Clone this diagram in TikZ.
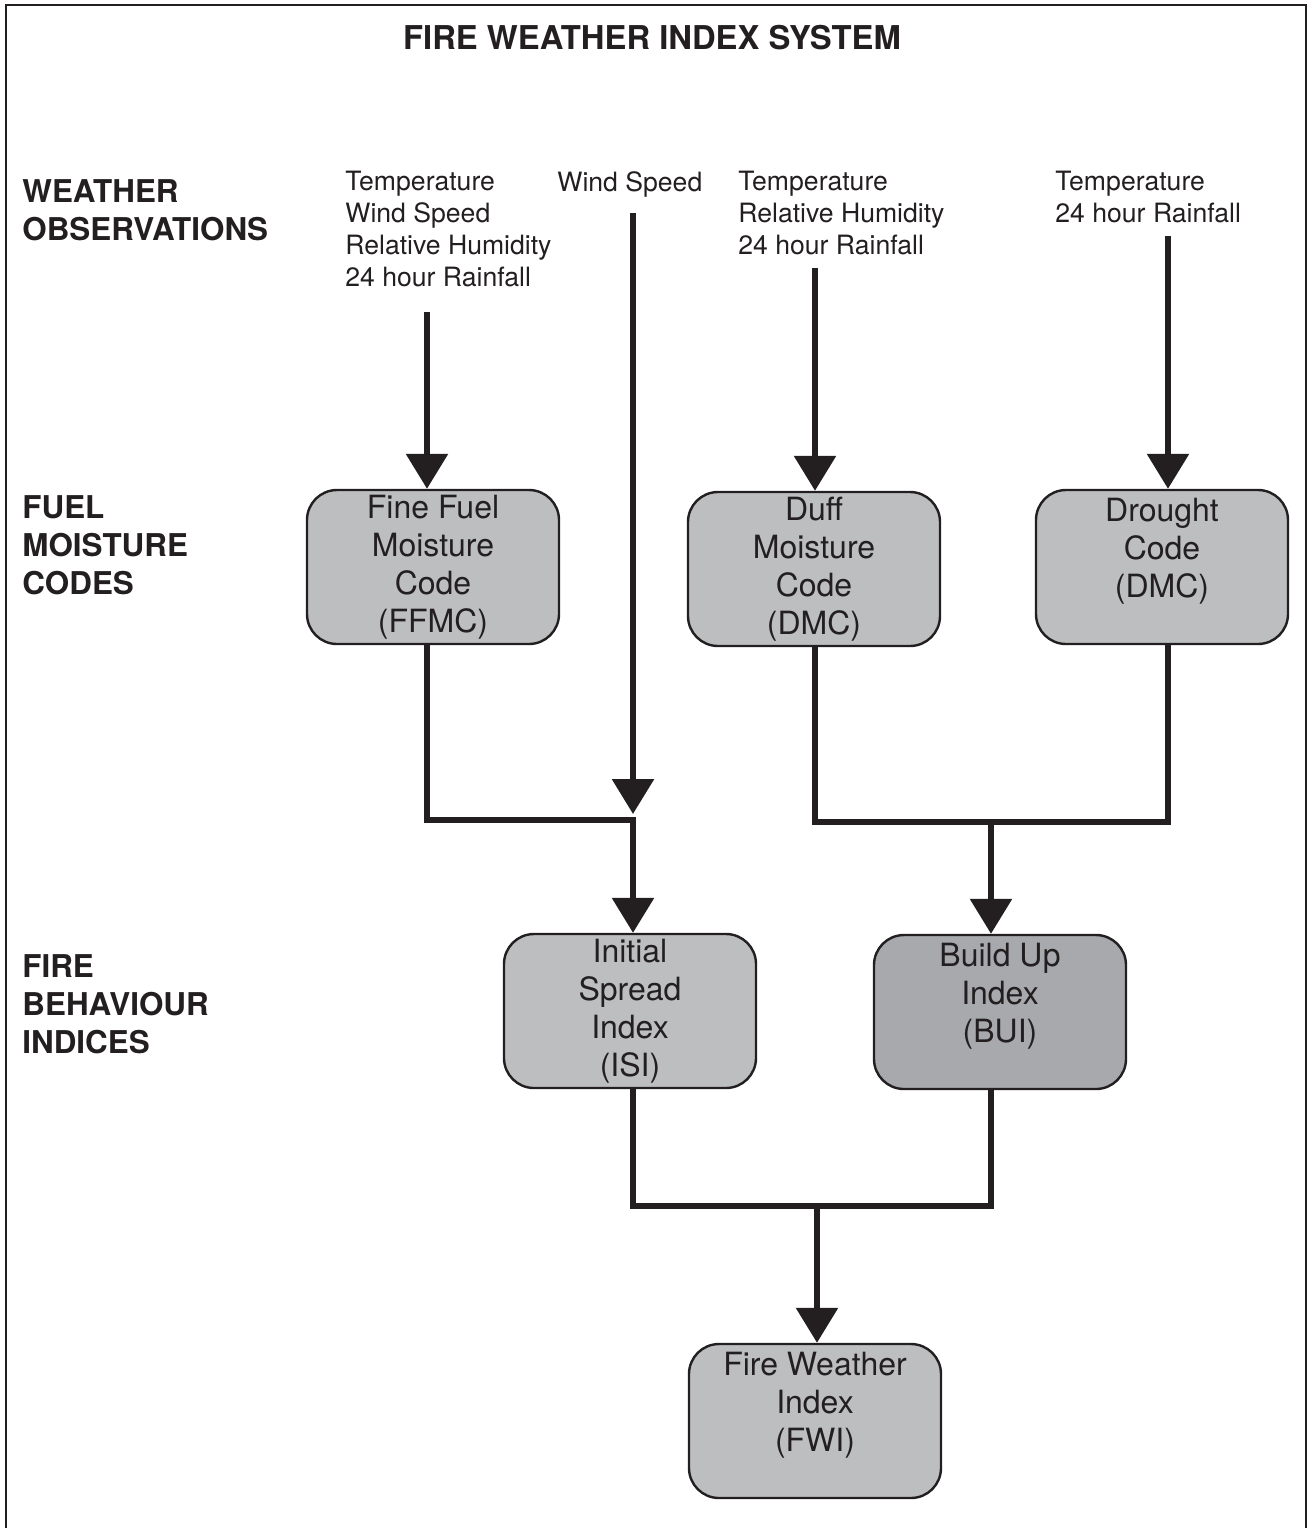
\documentclass[tikz,border=0pt]{standalone}
\usepackage{fontspec}
\setmainfont{TeX Gyre Heros}
\usetikzlibrary{arrows.meta}
\definecolor{ink}{HTML}{231F20}
\definecolor{boxgrey}{HTML}{BCBEC0}
\definecolor{boxdark}{HTML}{A7A9AC}
\tikzset{
  TitleStyle/.style = {anchor=north, inner sep=0pt, text=ink,
                       font=\fontsize{16.4}{19}\selectfont\bfseries},
  HeadStyle/.style  = {anchor=north west, align=left, inner sep=0pt, text=ink,
                       font=\fontsize{15.7}{19}\selectfont\bfseries},
  ObsStyle/.style   = {anchor=north west, align=left, inner sep=0pt, text=ink,
                       font=\fontsize{13.3}{16}\selectfont},
  BoxStyle/.style   = {draw=ink, line width=1.2pt, fill=boxgrey,
                       rounded corners=15pt, minimum width=126pt,
                       minimum height=77pt, inner sep=2pt, align=center,
                       text=ink, font=\fontsize{16}{19}\selectfont},
  LineStyle/.style  = {ink, line width=3pt},
  EdgeStyle/.style  = {LineStyle, -{Triangle[width=20.5pt,length=17.5pt]}} }

\begin{document}
\begin{tikzpicture}[x=0.5pt,y=-0.5pt]
  \useasboundingbox (0,0) rectangle (1308,1528);
  \draw[ink, line width=1.25pt] (6,1540) |- (1306,5) -- (1306,1540);

  % headings
  \node[TitleStyle] (title) at (652,25) {FIRE WEATHER INDEX SYSTEM};
  \node[HeadStyle] (hobs)  at (22,179) {WEATHER\\OBSERVATIONS};
  \node[HeadStyle] (hfuel) at (22,495) {FUEL\\MOISTURE\\CODES};
  \node[HeadStyle] (hfire) at (22,954) {FIRE\\BEHAVIOUR\\INDICES};

  % weather observations
  \node[ObsStyle] (obs1) at (345,171)
    {Temperature\\Wind Speed\\Relative Humidity\\24 hour Rainfall};
  \node[ObsStyle] (obs2) at (557,171) {Wind Speed};
  \node[ObsStyle] (obs3) at (738,171)
    {Temperature\\Relative Humidity\\24 hour Rainfall};
  \node[ObsStyle] (obs4) at (1055,171) {Temperature\\24 hour Rainfall};

  % codes and indices
  \node[BoxStyle] (ffmc) at (433,567)  {Fine Fuel\\Moisture\\Code\\(FFMC)};
  \node[BoxStyle] (dmc)  at (814,569)  {Duff\\Moisture\\Code\\(DMC)};
  \node[BoxStyle] (dc)   at (1162,567) {Drought\\Code\\(DMC)\\\mbox{}};
  \node[BoxStyle] (isi)  at (630,1011) {Initial\\Spread\\Index\\(ISI)};
  \node[BoxStyle, fill=boxdark] (bui) at (1000,1012)
    {Build Up\\Index\\(BUI)\\\mbox{}};
  \node[BoxStyle] (fwi)  at (815,1421) {Fire Weather\\Index\\(FWI)\\\mbox{}};

  \coordinate (t1) at (427,312);
  \coordinate (t2) at (633,213);
  \coordinate (t3) at (815,268);
  \coordinate (t4) at (1168,236);
  \coordinate (j1) at (633,820);
  \coordinate (j2) at (991,822);
  \coordinate (j3) at (817,1206);

  \draw[EdgeStyle] (t1) -- (t1 |- ffmc.north);
  \draw[EdgeStyle] (t3) -- (t3 |- dmc.north);
  \draw[EdgeStyle] (t4) -- (t4 |- dc.north);
  \draw[EdgeStyle] (t2) -- ([yshift=3pt]j1);

  \draw[EdgeStyle] (t1 |- ffmc.south) |- (j1) -- (j1 |- isi.north);
  \draw[LineStyle] (t3 |- dmc.south) |- (j2) -| (t4 |- dc.south);
  \draw[EdgeStyle] (j2) -- (j2 |- bui.north);
  \draw[LineStyle] (t2 |- isi.south) |- (j3) -| (j2 |- bui.south);
  \draw[EdgeStyle] (j3) -- (j3 |- fwi.north);
\end{tikzpicture}
\end{document}
